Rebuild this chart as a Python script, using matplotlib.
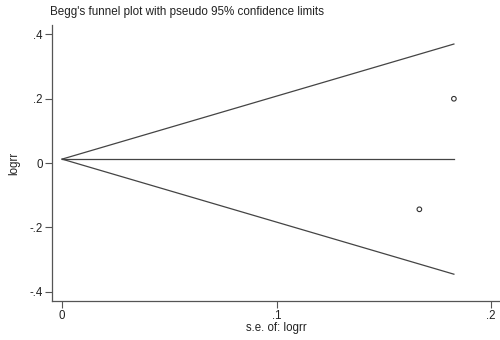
import numpy as np
import matplotlib
matplotlib.use("Agg")
import matplotlib.pyplot as plt

# study estimates (log relative risk) and their standard errors
logrr = [0.200, -0.144]
se_logrr = [0.1827, 0.1666]

yticks = [-0.4, -0.2, 0, 0.2, 0.4]
ytick_labels = ["-.4", "-.2", "0", ".2", ".4"]
xticks = [0, 0.1, 0.2]
xtick_labels = ["0", ".1", ".2"]

plt.rcParams["font.family"] = ["Liberation Sans", "DejaVu Sans"]

# fixed-effect pooled estimate
w = 1 / np.array(se_logrr) ** 2
pooled = np.sum(w * np.array(logrr)) / np.sum(w)
se_max = max(se_logrr)

fig = plt.figure(figsize=(5, 3.4), dpi=100)
ax = fig.add_axes([0.104, 0.115, 0.896, 0.811])

line_col = "#444444"
ax.plot([0, se_max], [pooled, pooled + 1.96 * se_max], color=line_col, lw=0.9)
ax.plot([0, se_max], [pooled, pooled - 1.96 * se_max], color=line_col, lw=0.9)
ax.plot([0, se_max], [pooled, pooled], color=line_col, lw=0.9)
ax.scatter(se_logrr, logrr, s=11, facecolors="none", edgecolors="#333333", linewidths=0.8, zorder=3)

ax.set_xlim(-0.0047, 0.2042)
ax.set_ylim(-0.429, 0.429)
ax.set_xticks(xticks)
ax.set_xticklabels(xtick_labels)
ax.set_yticks(yticks)
ax.set_yticklabels(ytick_labels)

for side in ["top", "right"]:
    ax.spines[side].set_visible(False)
for side in ["left", "bottom"]:
    ax.spines[side].set_color("#555555")
    ax.spines[side].set_linewidth(0.9)
ax.tick_params(direction="out", length=5, width=0.8, color="#555555", labelsize=8.3, pad=1.5,
               labelcolor="#222222")

ax.set_xlabel("s.e. of: logrr", fontsize=8.3, labelpad=0, color="#222222")
ax.set_ylabel("logrr", fontsize=8.3, labelpad=7, color="#222222")
fig.text(0.1, 0.965, "Begg's funnel plot with pseudo 95% confidence limits", fontsize=8.4,
         va="center", ha="left", color="#222222")

fig.savefig("out.png", dpi=100)
